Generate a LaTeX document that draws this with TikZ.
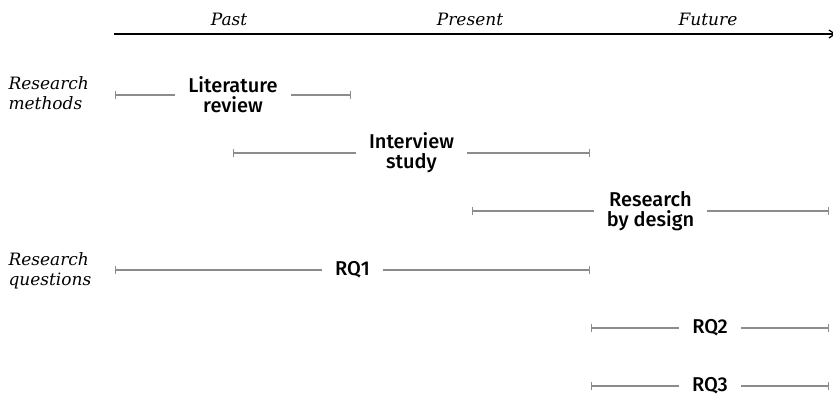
\documentclass[tikz,border=0pt]{standalone}
\usepackage{fontspec}
\newfontfamily\labfont{Fira Sans}[UprightFont=* Medium]
\newfontfamily\itfont{DejaVu Serif}
\usetikzlibrary{arrows.meta}
\begin{document}
\begin{tikzpicture}[x=1pt,y=-1pt,
  axis/.style={draw=black,line width=1.2pt,-{Straight Barb[length=6pt,width=8pt]}},
  bar/.style={draw=black!45,line width=1.4pt,{Bar[width=8pt]}-{Bar[width=8pt]}},
  lab/.style={fill=white,inner xsep=13pt,inner ysep=1pt,align=center,font=\labfont\fontsize{20}{20}\selectfont,text=black},
  era/.style={font=\itfont\itshape\fontsize{17}{20}\selectfont},
  side/.style={font=\itfont\itshape\fontsize{17}{20}\selectfont,align=left,anchor=west}]
\useasboundingbox (0,0) rectangle (833,402);
\coordinate (ax0) at (114,34);
\coordinate (ax1) at (836,34);
\draw[axis] (ax0) -- (ax1);
\node[era] (past) at (229,19) {Past};
\node[era] (present) at (470,19) {Present};
\node[era] (future) at (708,19) {Future};
\node[side] (rm) at (5,93) {Research\\methods};
\node[side] (rq) at (5,271) {Research\\questions};
\coordinate (l0) at (115,95); \coordinate (l1) at (351,95);
\draw[bar] (l0) -- node[lab] (lit) {Literature\\review} (l1);
\coordinate (i0) at (233,153); \coordinate (i1) at (590,153);
\draw[bar] (i0) -- node[lab] (int) {Interview\\study} (i1);
\coordinate (d0) at (472,211); \coordinate (d1) at (829,211);
\draw[bar] (d0) -- node[lab] (rbd) {Research\\by design} (d1);
\coordinate (q10) at (115,270); \coordinate (q11) at (590,270);
\draw[bar] (q10) -- node[lab] (rq1) {RQ1} (q11);
\coordinate (q20) at (591,328); \coordinate (q21) at (829,328);
\draw[bar] (q20) -- node[lab] (rq2) {RQ2} (q21);
\coordinate (q30) at (591,386); \coordinate (q31) at (829,386);
\draw[bar] (q30) -- node[lab] (rq3) {RQ3} (q31);
\end{tikzpicture}
\end{document}
